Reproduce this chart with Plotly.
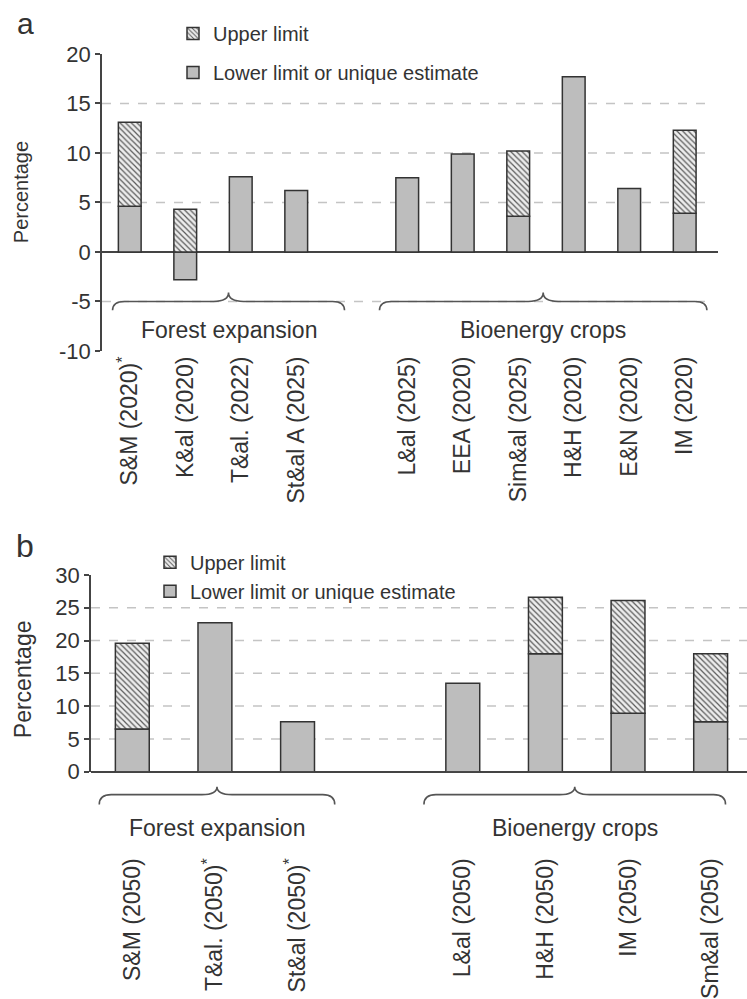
import plotly.graph_objects as go

W, H = 747, 999

# ---- Panel a: near-term estimates (percentage) ----
cats_a = ["S&M (2020)", "K&al (2020)", "T&al. (2022)", "St&al A (2025)", " ",
          "L&al (2025)", "EEA (2020)", "Sim&al (2025)", "H&H (2020)", "E&N (2020)", "IM (2020)"]
lower_a = [4.6, -2.8, 7.6, 6.2, None, 7.5, 9.9, 3.6, 17.7, 6.4, 3.9]
upper_a = [13.1, 4.3, None, None, None, None, None, 10.2, None, None, 12.3]
starred_a = ["S&M (2020)"]
yticks_a = [-10, -5, 0, 5, 10, 15, 20]
grid_a = [-5, 5, 10, 15]

# ---- Panel b: 2050 estimates (percentage) ----
cats_b = ["S&M (2050)", "T&al. (2050)", "St&al (2050)", "  ",
          "L&al (2050)", "H&H (2050)", "IM (2050)", "Sm&al (2050)"]
lower_b = [6.5, 22.7, 7.6, None, 13.5, 18.0, 8.9, 7.6]
upper_b = [19.6, None, None, None, None, 26.6, 26.1, 18.0]
starred_b = ["T&al. (2050)", "St&al (2050)"]
yticks_b = [0, 5, 10, 15, 20, 25, 30]
grid_b = [5, 10, 15, 20, 25]

group_names = ["Forest expansion", "Bioenergy crops"]

TEXT = "#333333"
AXIS = "#444444"
FONT = "Liberation Sans, Arial, sans-serif"

# axis placement (paper fractions) and ranges
xdom_a, ydom_a, xr_a, yr_a = [102 / W, 718 / W], [1 - 348 / H, 1 - 43 / H], [-0.5, 10.6], [-10, 20]
xdom_b, ydom_b, xr_b, yr_b = [91 / W, 1.0], [1 - 780 / H, 1 - 578 / H], [-0.5, 7.44], [0, 30]

# brace spans (category index units) and levels (data units)
braces_a = [(-0.31, 3.87), (4.5, 10.4)]
braces_b = [(-0.40, 2.45), (3.53, 7.18)]
brace_lvl_a = dict(line=-5.0, peak=-4.1, end=-5.9, label=-7.9)
brace_lvl_b = dict(line=-3.5, peak=-2.3, end=-5.0, label=-8.6)


def upper_segment(lower, upper):
    """Height of the hatched part stacked above the lower estimate."""
    out = []
    for lo, up in zip(lower, upper):
        if up is None:
            out.append(None)
        else:
            out.append(round(up - max(lo or 0, 0), 2))
    return out


def tick_text(cats, starred):
    return [c + "<sup>*</sup>" if c in starred else c for c in cats]


def brace_path(x0, x1, lv, xr, yr, width_px):
    span = xr[1] - xr[0]
    fx = lambda v: (v - xr[0]) / span
    fy = lambda v: (v - yr[0]) / (yr[1] - yr[0])
    r_end, r_mid = 12 / width_px, 15 / width_px
    a, b = fx(x0), fx(x1)
    m = (a + b) / 2
    yl, yp, ye = fy(lv["line"]), fy(lv["peak"]), fy(lv["end"])
    return (f"M {a},{ye} Q {a},{yl} {a + r_end},{yl} L {m - r_mid},{yl} "
            f"Q {m},{yl} {m},{yp} Q {m},{yl} {m + r_mid},{yl} "
            f"L {b - r_end},{yl} Q {b},{yl} {b},{ye}")


solid = dict(color="#bdbdbd", line=dict(color="#333333", width=1.5))
hatched = dict(color="#ededed", line=dict(color="#333333", width=1.5),
               pattern=dict(shape="\\", fgcolor="#5a5a5a", bgcolor="#ededed",
                            size=4, solidity=0.3, fillmode="replace"))

fig = go.Figure()
for cats, lower, upper, xa, ya, leg in [
    (cats_a, lower_a, upper_a, "x", "y", "legend"),
    (cats_b, lower_b, upper_b, "x2", "y2", "legend2"),
]:
    fig.add_trace(go.Bar(x=cats, y=lower, name="Lower limit or unique estimate",
                         marker=solid, xaxis=xa, yaxis=ya, legend=leg,
                         legendgroup="lower", legendrank=2, width=0.41))
    fig.add_trace(go.Bar(x=cats, y=upper_segment(lower, upper), name="Upper limit",
                         marker=hatched, xaxis=xa, yaxis=ya, legend=leg,
                         legendgroup="upper", legendrank=1, width=0.41))

shapes, annotations = [], []
for xn, yn, grid, xdom, xr, yr, braces, lv in [
    ("x", "y", grid_a, xdom_a, xr_a, yr_a, braces_a, brace_lvl_a),
    ("x2", "y2", grid_b, xdom_b, xr_b, yr_b, braces_b, brace_lvl_b),
]:
    width_px = (xdom[1] - xdom[0]) * W
    x_end = 1 - 10 / width_px if xn == "x" else 1.0
    for g in grid:
        shapes.append(dict(type="line", xref=f"{xn} domain", yref=yn, x0=0, x1=x_end,
                           y0=g, y1=g, layer="below",
                           line=dict(color="#c4c4c4", width=1.5, dash="dash")))
    for (b0, b1), name in zip(braces, group_names):
        shapes.append(dict(type="path", xref=f"{xn} domain", yref=f"{yn} domain",
                           path=brace_path(b0, b1, lv, xr, yr, width_px),
                           line=dict(color="#555555", width=1.6)))
        annotations.append(dict(text=name, xref=xn, yref=f"{yn} domain",
                                x=(b0 + b1) / 2,
                                y=(lv["label"] - yr[0]) / (yr[1] - yr[0]),
                                xanchor="center", yanchor="middle", showarrow=False,
                                font=dict(size=23, color=TEXT)))

annotations += [
    dict(text="Percentage", xref="paper", yref="paper", x=21 / W, y=1 - 185 / H,
         xanchor="center", yanchor="middle", textangle=-90, showarrow=False,
         font=dict(size=20, color=TEXT)),
    dict(text="Percentage", xref="paper", yref="paper", x=23 / W, y=1 - 685 / H,
         xanchor="center", yanchor="middle", textangle=-90, showarrow=False,
         font=dict(size=23, color=TEXT)),
    dict(text="a", xref="paper", yref="paper", x=25 / W, y=1 - 31 / H,
         xanchor="center", yanchor="bottom", showarrow=False,
         font=dict(size=30, color=TEXT)),
    dict(text="b", xref="paper", yref="paper", x=25 / W, y=1 - 569 / H,
         xanchor="center", yanchor="bottom", showarrow=False,
         font=dict(size=32, color=TEXT)),
]

xaxis_common = dict(type="category", categoryorder="array", tickangle=-90, ticks="",
                    showline=False, showgrid=False, zeroline=False,
                    tickfont=dict(size=23, color=TEXT))
yaxis_common = dict(ticks="outside", ticklen=5, tickwidth=1.5, tickcolor=AXIS,
                    showline=True, linecolor=AXIS, linewidth=1.5, showgrid=False,
                    zeroline=True, zerolinecolor=AXIS, zerolinewidth=1.5,
                    tickfont=dict(size=22, color=TEXT))

legend_common = dict(xanchor="left", yanchor="top", bgcolor="rgba(0,0,0,0)",
                     font=dict(size=20, color=TEXT), itemclick=False,
                     traceorder="grouped")

fig.update_layout(
    width=W, height=H, margin=dict(l=0, r=0, t=0, b=0),
    paper_bgcolor="white", plot_bgcolor="white",
    barmode="relative",
    font=dict(family=FONT, color=TEXT),
    xaxis=dict(xaxis_common, domain=xdom_a, anchor="y", range=xr_a,
               categoryarray=cats_a, tickvals=cats_a,
               ticktext=tick_text(cats_a, starred_a), ticklabelstandoff=0),
    yaxis=dict(yaxis_common, domain=ydom_a, anchor="x", range=yr_a,
               tickvals=yticks_a, ticktext=[str(v) for v in yticks_a]),
    xaxis2=dict(xaxis_common, domain=xdom_b, anchor="y2", range=xr_b,
                categoryarray=cats_b, tickvals=cats_b,
                ticktext=tick_text(cats_b, starred_b), ticklabelstandoff=81),
    yaxis2=dict(yaxis_common, domain=ydom_b, anchor="x2", range=yr_b,
                tickvals=yticks_b, ticktext=[str(v) for v in yticks_b]),
    legend=dict(legend_common, x=173 / W, y=1 - 2 / H, tracegroupgap=10),
    legend2=dict(legend_common, x=150 / W, y=1 - 545 / H, tracegroupgap=0),
    shapes=shapes,
    annotations=annotations,
)

fig.write_html("out.html")
